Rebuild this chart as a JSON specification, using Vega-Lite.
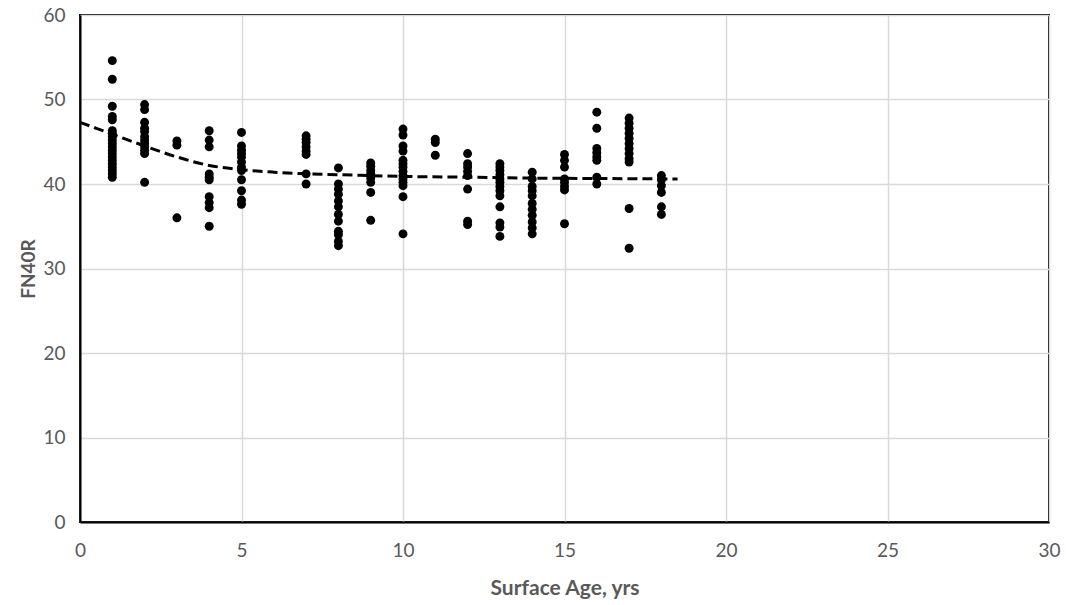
{
  "$schema": "https://vega.github.io/schema/vega-lite/v6.json",
  "autosize": "none",
  "width": 969,
  "height": 507,
  "padding": {"left": 80, "top": 15, "right": 17, "bottom": 83},
  "background": "white",
  "config": {
    "view": {"stroke": "black", "strokeWidth": 2},
    "font": "Lato"
  },
  "datasets": {
    "pts": [
      {"age": 1, "fn": 54.6}, {"age": 1, "fn": 52.4}, {"age": 1, "fn": 49.2}, {"age": 1, "fn": 48.0}, {"age": 1, "fn": 47.6}, {"age": 1, "fn": 46.3}, {"age": 1, "fn": 46.0}, {"age": 1, "fn": 45.6}, {"age": 1, "fn": 45.2}, {"age": 1, "fn": 44.8}, {"age": 1, "fn": 44.4}, {"age": 1, "fn": 44.0}, {"age": 1, "fn": 43.6}, {"age": 1, "fn": 43.2}, {"age": 1, "fn": 42.8}, {"age": 1, "fn": 42.4}, {"age": 1, "fn": 42.0}, {"age": 1, "fn": 41.6}, {"age": 1, "fn": 41.2}, {"age": 1, "fn": 40.8},
      {"age": 2, "fn": 49.4}, {"age": 2, "fn": 48.8}, {"age": 2, "fn": 47.3}, {"age": 2, "fn": 46.6}, {"age": 2, "fn": 46.2}, {"age": 2, "fn": 45.6}, {"age": 2, "fn": 45.2}, {"age": 2, "fn": 44.8}, {"age": 2, "fn": 44.4}, {"age": 2, "fn": 44.0}, {"age": 2, "fn": 43.6}, {"age": 2, "fn": 40.2},
      {"age": 3, "fn": 45.1}, {"age": 3, "fn": 44.6}, {"age": 3, "fn": 36.0},
      {"age": 4, "fn": 46.3}, {"age": 4, "fn": 45.2}, {"age": 4, "fn": 44.4}, {"age": 4, "fn": 41.2}, {"age": 4, "fn": 40.8}, {"age": 4, "fn": 40.5}, {"age": 4, "fn": 38.5}, {"age": 4, "fn": 37.8}, {"age": 4, "fn": 37.2}, {"age": 4, "fn": 35.0},
      {"age": 5, "fn": 46.1}, {"age": 5, "fn": 44.5}, {"age": 5, "fn": 44.0}, {"age": 5, "fn": 43.6}, {"age": 5, "fn": 43.2}, {"age": 5, "fn": 42.6}, {"age": 5, "fn": 42.0}, {"age": 5, "fn": 41.6}, {"age": 5, "fn": 40.5}, {"age": 5, "fn": 39.2}, {"age": 5, "fn": 38.1}, {"age": 5, "fn": 37.6},
      {"age": 7, "fn": 45.7}, {"age": 7, "fn": 45.3}, {"age": 7, "fn": 44.9}, {"age": 7, "fn": 44.4}, {"age": 7, "fn": 43.9}, {"age": 7, "fn": 43.5}, {"age": 7, "fn": 41.2}, {"age": 7, "fn": 40.0},
      {"age": 8, "fn": 41.9}, {"age": 8, "fn": 40.0}, {"age": 8, "fn": 39.4}, {"age": 8, "fn": 38.8}, {"age": 8, "fn": 38.0}, {"age": 8, "fn": 37.3}, {"age": 8, "fn": 36.4}, {"age": 8, "fn": 35.6}, {"age": 8, "fn": 34.4}, {"age": 8, "fn": 34.0}, {"age": 8, "fn": 33.2}, {"age": 8, "fn": 32.7},
      {"age": 9, "fn": 42.5}, {"age": 9, "fn": 42.1}, {"age": 9, "fn": 41.6}, {"age": 9, "fn": 41.2}, {"age": 9, "fn": 40.7}, {"age": 9, "fn": 40.2}, {"age": 9, "fn": 39.0}, {"age": 9, "fn": 35.7},
      {"age": 10, "fn": 46.5}, {"age": 10, "fn": 45.8}, {"age": 10, "fn": 44.5}, {"age": 10, "fn": 43.9}, {"age": 10, "fn": 42.8}, {"age": 10, "fn": 42.4}, {"age": 10, "fn": 42.0}, {"age": 10, "fn": 41.5}, {"age": 10, "fn": 41.0}, {"age": 10, "fn": 40.6}, {"age": 10, "fn": 40.2}, {"age": 10, "fn": 39.8}, {"age": 10, "fn": 38.5}, {"age": 10, "fn": 34.1},
      {"age": 11, "fn": 45.3}, {"age": 11, "fn": 44.9}, {"age": 11, "fn": 43.4},
      {"age": 12, "fn": 43.6}, {"age": 12, "fn": 42.4}, {"age": 12, "fn": 42.0}, {"age": 12, "fn": 41.5}, {"age": 12, "fn": 41.0}, {"age": 12, "fn": 39.4}, {"age": 12, "fn": 35.6}, {"age": 12, "fn": 35.2},
      {"age": 13, "fn": 42.4}, {"age": 13, "fn": 42.0}, {"age": 13, "fn": 41.6}, {"age": 13, "fn": 41.1}, {"age": 13, "fn": 40.6}, {"age": 13, "fn": 40.2}, {"age": 13, "fn": 39.7}, {"age": 13, "fn": 39.2}, {"age": 13, "fn": 38.6}, {"age": 13, "fn": 37.3}, {"age": 13, "fn": 35.4}, {"age": 13, "fn": 34.9}, {"age": 13, "fn": 33.8},
      {"age": 14, "fn": 41.4}, {"age": 14, "fn": 40.6}, {"age": 14, "fn": 39.7}, {"age": 14, "fn": 39.2}, {"age": 14, "fn": 38.6}, {"age": 14, "fn": 37.7}, {"age": 14, "fn": 37.0}, {"age": 14, "fn": 36.3}, {"age": 14, "fn": 35.5}, {"age": 14, "fn": 34.8}, {"age": 14, "fn": 34.1},
      {"age": 15, "fn": 43.5}, {"age": 15, "fn": 42.8}, {"age": 15, "fn": 42.0}, {"age": 15, "fn": 40.6}, {"age": 15, "fn": 40.2}, {"age": 15, "fn": 39.7}, {"age": 15, "fn": 39.3}, {"age": 15, "fn": 35.3},
      {"age": 16, "fn": 48.5}, {"age": 16, "fn": 46.6}, {"age": 16, "fn": 44.2}, {"age": 16, "fn": 43.7}, {"age": 16, "fn": 43.2}, {"age": 16, "fn": 42.8}, {"age": 16, "fn": 40.8}, {"age": 16, "fn": 40.0},
      {"age": 17, "fn": 47.8}, {"age": 17, "fn": 47.2}, {"age": 17, "fn": 46.6}, {"age": 17, "fn": 46.0}, {"age": 17, "fn": 45.4}, {"age": 17, "fn": 44.8}, {"age": 17, "fn": 44.2}, {"age": 17, "fn": 43.6}, {"age": 17, "fn": 43.0}, {"age": 17, "fn": 42.6}, {"age": 17, "fn": 37.1}, {"age": 17, "fn": 32.4},
      {"age": 18, "fn": 41.0}, {"age": 18, "fn": 40.5}, {"age": 18, "fn": 39.8}, {"age": 18, "fn": 39.0}, {"age": 18, "fn": 37.3}, {"age": 18, "fn": 36.4}
    ],
    "trend": [
      {"age": 0, "fn": 47.3}, {"age": 1, "fn": 45.9}, {"age": 2, "fn": 44.5}, {"age": 3, "fn": 43.2}, {"age": 4, "fn": 42.2}, {"age": 5, "fn": 41.7}, {"age": 6, "fn": 41.4}, {"age": 7, "fn": 41.2}, {"age": 8, "fn": 41.1}, {"age": 10, "fn": 40.9}, {"age": 12, "fn": 40.8}, {"age": 14, "fn": 40.7}, {"age": 16, "fn": 40.65}, {"age": 18.5, "fn": 40.6}
    ]
  },
  "encoding": {
    "x": {
      "field": "age", "type": "quantitative",
      "scale": {"domain": [0, 30], "nice": false, "zero": true},
      "axis": {
        "title": "Surface Age, yrs", "values": [0, 5, 10, 15, 20, 25, 30],
        "grid": true, "gridColor": "#d9d9d9", "gridWidth": 1.5,
        "domain": true, "domainColor": "black", "domainWidth": 2,
        "ticks": false, "labelPadding": 19, "labelFlush": false,
        "labelFont": "Lato", "labelFontSize": 19, "labelColor": "#595959",
        "titleFont": "Lato", "titleFontSize": 21, "titleFontWeight": "bold", "titleColor": "#595959",
        "titlePadding": 17
      }
    },
    "y": {
      "field": "fn", "type": "quantitative",
      "scale": {"domain": [0, 60], "nice": false},
      "axis": {
        "title": "FN40R", "values": [0, 10, 20, 30, 40, 50, 60],
        "grid": true, "gridColor": "#d9d9d9", "gridWidth": 1.5,
        "domain": true, "domainColor": "black", "domainWidth": 2,
        "ticks": false, "labelPadding": 15, "labelFlush": false,
        "labelFont": "Lato", "labelFontSize": 19, "labelColor": "#595959",
        "titleFont": "Lato", "titleFontSize": 19, "titleFontWeight": "bold", "titleColor": "#595959",
        "titlePadding": 4
      }
    }
  },
  "layer": [
    {
      "data": {"name": "pts"},
      "mark": {"type": "circle", "color": "black", "opacity": 1, "size": 80}
    },
    {
      "data": {"name": "trend"},
      "mark": {"type": "line", "color": "black", "strokeWidth": 3, "strokeDash": [10, 5], "interpolate": "monotone"}
    }
  ]
}
